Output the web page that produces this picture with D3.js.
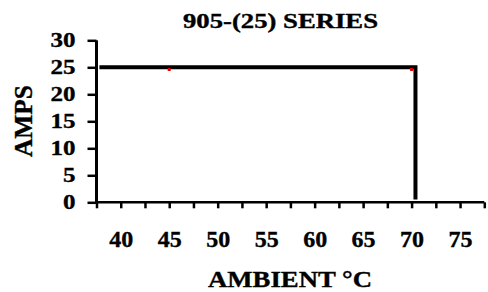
<!DOCTYPE html>
<html><head><meta charset="utf-8">
<script src="https://cdn.jsdelivr.net/npm/d3@7"></script>
<style>body{margin:0;background:#fff}svg{display:block}</style>
</head><body>
<script>
const title = "905-(25) SERIES";
const xTitle = "AMBIENT °C";
const yTitle = "AMPS";
const curveX = [37.8, 70.4, 70.4];
const curveY = [25, 25, 0.5];
const pointX = [45, 70];
const pointY = [24.6, 24.6];
const xTickValues = [37.5,40,42.5,45,47.5,50,52.5,55,57.5,60,62.5,65,67.5,70,72.5,75,77.5];
const xTickLabels = [40,45,50,55,60,65,70,75];
const yTickValues = [0,5,10,15,20,25,30];

const W = 488, H = 292;
const FONT = '"Liberation Serif","Times New Roman",Times,serif';
const svg = d3.select("body").append("svg").attr("width", W).attr("height", H);
const x = d3.scaleLinear().domain([37.5, 77.5]).range([96.5, 484.3]);
const y = d3.scaleLinear().domain([0, 30]).range([202.3, 40.3]);

function styleText(sel, size) {
  sel.style("font-family", FONT).style("font-weight", "bold").style("font-size", size + "px")
    .style("fill", "#000").style("stroke", "#000").style("stroke-width", "0.35px");
}

// title
svg.append("text").attr("x", 280.5).attr("y", 28).attr("text-anchor", "middle")
  .attr("textLength", 195).attr("lengthAdjust", "spacingAndGlyphs").text(title)
  .call(styleText, 20);

// y axis
const ya = svg.append("g").attr("transform", `translate(${x(37.5)},0)`)
  .call(d3.axisLeft(y).tickValues(yTickValues).tickSize(9).tickPadding(20).tickFormat(d3.format("d")));
ya.select(".domain").attr("stroke-width", 3).attr("d", `M0,${y(30)}V${y(0)}`);
ya.selectAll(".tick line").attr("stroke-width", 2.5);
ya.selectAll(".tick text").attr("dy", "0.3em").attr("x", -21)
  .attr("textLength", d => String(d).length * 12.5).attr("lengthAdjust", "spacingAndGlyphs")
  .call(styleText, 22);

// x axis
const xa = svg.append("g").attr("transform", `translate(0,${y(0)})`)
  .call(d3.axisBottom(x).tickValues(xTickValues).tickSize(6).tickPadding(0)
    .tickFormat(d => xTickLabels.includes(d) ? d : ""));
xa.select(".domain").attr("stroke-width", 2.5).attr("d", `M${x(37.5)},0H${x(77.5)}`);
xa.selectAll(".tick line").attr("stroke-width", 2.5);
xa.selectAll(".tick text").attr("y", 45).attr("dy", 0).call(styleText, 24);

// axis titles
svg.append("text").attr("transform", `translate(32,121) rotate(-90)`).attr("text-anchor", "middle")
  .attr("textLength", 72).attr("lengthAdjust", "spacingAndGlyphs").text(yTitle).call(styleText, 25);
svg.append("text").attr("x", 290).attr("y", 287).attr("text-anchor", "middle")
  .attr("textLength", 164).attr("lengthAdjust", "spacingAndGlyphs").text(xTitle).call(styleText, 23);

// curve
const pts = curveX.map((v, i) => [v, curveY[i]]);
svg.append("path").datum(pts)
  .attr("d", d3.line().x(d => x(d[0])).y(d => y(d[1])))
  .attr("fill", "none").attr("stroke", "#000").attr("stroke-width", 4).attr("stroke-linejoin", "miter");

// red points
svg.selectAll("rect.pt").data(pointX.map((v, i) => [v, pointY[i]])).join("rect").attr("class", "pt")
  .attr("x", d => x(d[0]) - 1.5).attr("y", d => y(d[1]) - 1.5).attr("width", 3).attr("height", 3)
  .attr("fill", "#e00000");
</script>
</body></html>
